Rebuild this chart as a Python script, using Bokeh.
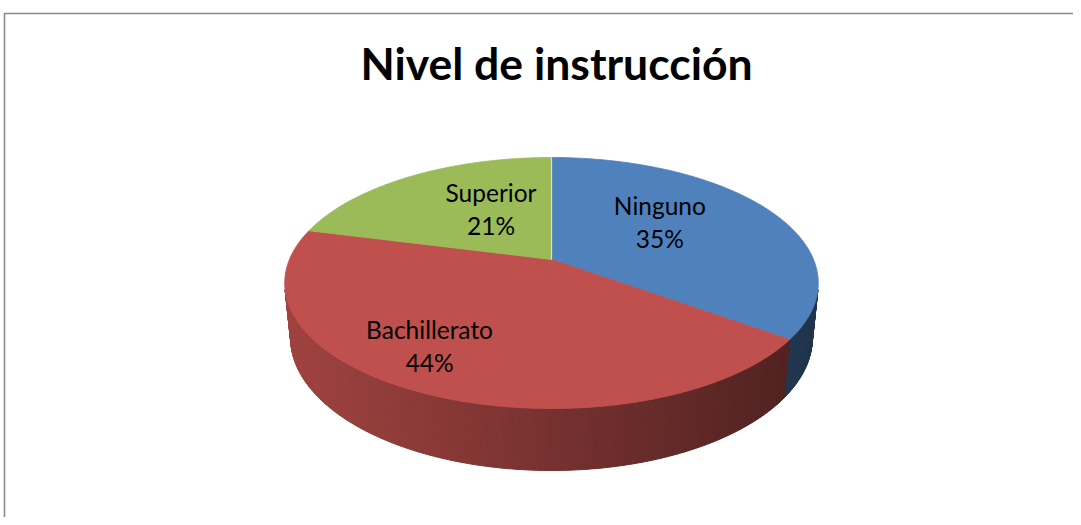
import numpy as np
from bokeh.plotting import figure
from bokeh.models import Range1d
from bokeh.core.properties import value
from bokeh.embed import file_html
from bokeh.resources import INLINE

# ---- data ----
categories = ["Ninguno", "Bachillerato", "Superior"]
values = [35, 44, 21]
colors = ["#4F81BD", "#C0504D", "#9BBB59"]
title_text = "Nivel de instrucción"

# ---- layout / style ----
W, H = 1073, 517
CX, CY = 551, 259          # pie centre on screen (pixels inside the figure)
F, D = 1276.0, 4.762       # perspective focal length / camera distance
KX = 0.978                 # horizontal squeeze
S = 0.452                  # sin(elevation)
C = float(np.sqrt(1 - S * S))
THICK = 0.230              # pie thickness (relative to radius)
label_shift = [-10, 8, 9]  # degrees, label angle offset from slice middle
label_r = [0.55, 0.75, 0.52]
FONT = "Lato"


def proj(theta_deg, r=1.0, h=0.0):
    t = np.radians(theta_deg)
    X = r * np.sin(t)
    Z = r * np.cos(t)
    yc = Z * S - h * C
    zc = D + Z * C + h * S
    return CX + KX * F * X / zc, CY - F * yc / zc


def shade(hexcol, f):
    h = hexcol.lstrip("#")
    rgb = [int(h[i:i + 2], 16) for i in (0, 2, 4)]
    return "#%02x%02x%02x" % tuple(max(0, min(255, int(round(c * f)))) for c in rgb)


total = float(sum(values))
bounds = np.concatenate([[0], np.cumsum(values)]) / total * 360.0

p = figure(width=W, height=H, x_range=Range1d(0, W), y_range=Range1d(H, 0),
           output_backend="svg", toolbar_location=None, min_border=0,
           background_fill_color="white", border_fill_color="white")
p.axis.visible = False
p.grid.visible = False
p.outline_line_color = None

# ---- sides (visible front part) ----
theta_v = float(np.degrees(np.arccos(-1.0 / (C * D))))
xl = proj(360 - theta_v)[0]
xr = proj(theta_v)[0]
sxs, sys_, scol = [], [], []
step = 0.5
for i in range(len(values)):
    a0, a1 = bounds[i], bounds[i + 1]
    lo, hi = max(a0, theta_v), min(a1, 360 - theta_v)
    if lo >= hi:
        continue
    th = np.append(np.arange(lo, hi, step), hi)
    for k in range(len(th) - 1):
        t0, t1 = th[k], th[k + 1]
        x0, y0 = proj(t0)
        x1, y1 = proj(t1)
        x2, y2 = proj(t1, h=THICK)
        x3, y3 = proj(t0, h=THICK)
        xm = (x0 + x1) / 2
        f = 0.83 - 0.43 * (xm - xl) / (xr - xl)
        sxs.append([x0, x1, x2, x3])
        sys_.append([y0, y1, y2, y3])
        scol.append(shade(colors[i], f))
p.patches(sxs, sys_, fill_color=scol, line_color=scol, line_width=1)

# ---- top faces ----
txs, tys = [], []
for i in range(len(values)):
    th = np.linspace(bounds[i], bounds[i + 1], 200)
    px, py = proj(th)
    txs.append([CX] + list(px))
    tys.append([CY] + list(py))
p.patches(txs, tys, fill_color=colors, line_color=colors, line_width=0.8)
# light edge between the two back slices
ex, ey = proj(0.0)
p.line([CX, ex], [CY, ey], line_color="#d8e4c8", line_width=1.2)

# ---- labels ----
for i, name in enumerate(categories):
    mid = (bounds[i] + bounds[i + 1]) / 2 + label_shift[i]
    lx, ly = proj(mid, r=label_r[i])
    pct = "%d%%" % round(values[i] / total * 100)
    p.text(x=[lx], y=[ly - 16.5], text=[name], text_align="center",
           text_baseline="middle", text_font=value(FONT), text_font_size="24.5px",
           text_color="black")
    p.text(x=[lx], y=[ly + 16.5], text=[pct], text_align="center",
           text_baseline="middle", text_font=value(FONT), text_font_size="24.5px",
           text_color="black")

# ---- title ----
p.text(x=[556], y=[62], text=[title_text], text_align="center",
       text_baseline="middle", text_font=value(FONT), text_font_size="44.5px",
       text_font_style="bold", text_color="black")

# ---- chart border (left & top visible) ----
p.line([4, 4, W], [H, 13, 13], line_color="#8a8a8a", line_width=1.6)

open("out.html", "w").write(file_html(p, INLINE))
